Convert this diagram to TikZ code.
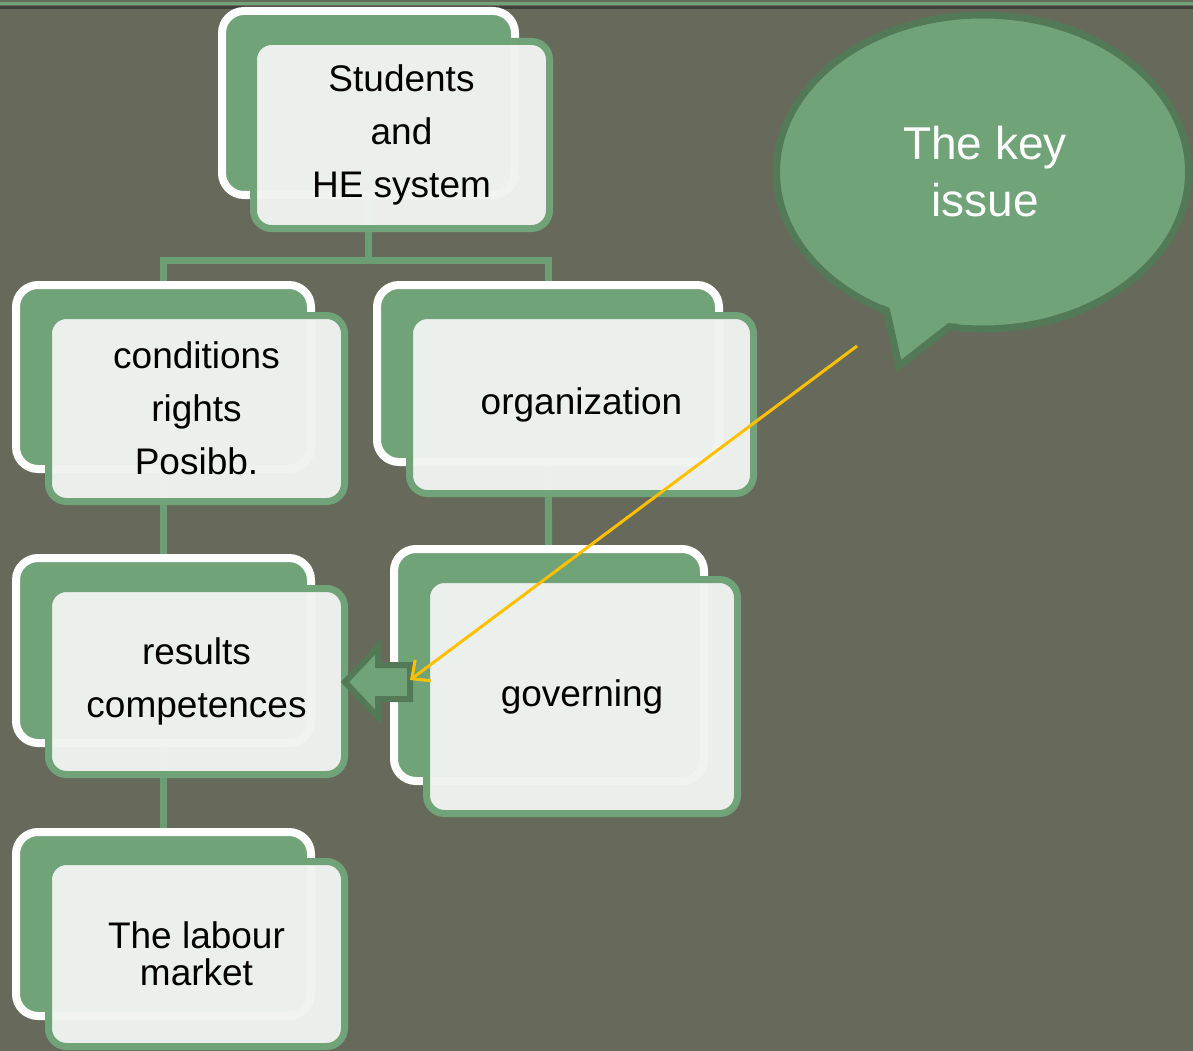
\documentclass[tikz,border=0pt]{standalone}
\usepackage{fontspec}
\setmainfont{Liberation Sans}
\usetikzlibrary{arrows.meta,shapes.geometric}
\definecolor{bg}{HTML}{676A5B}
\definecolor{boxgreen}{HTML}{70A378}
\definecolor{darkgreen}{HTML}{527A57}
\definecolor{linkgreen}{HTML}{6B9E72}
\definecolor{frontfill}{HTML}{F1F3F1}
\definecolor{yel}{HTML}{FFC000}
\definecolor{topdark}{HTML}{3F4138}
\pgfdeclarelayer{backlayer}
\pgfdeclarelayer{linklayer}
\pgfsetlayers{backlayer,linklayer,main}
\begin{document}
\begin{tikzpicture}[x=1pt,y=-1pt,
  backbox/.style={draw=white, line width=8pt, fill=boxgreen, rounded corners=22pt, inner sep=0pt, outer sep=0pt},
  frontbox/.style={draw=boxgreen, line width=7pt, fill=frontfill, fill opacity=0.97, draw opacity=1, text opacity=1,
     rounded corners=18pt, inner sep=0pt, outer sep=0pt, align=center, font=\fontsize{37}{53}\selectfont},
  link/.style={draw=linkgreen, line width=7pt},
  blockarrow/.style={draw=darkgreen, line width=6pt, fill=boxgreen, line join=miter},
  callout/.style={draw=darkgreen, line width=7pt, fill=boxgreen},
  pointer/.style={draw=yel, line width=3pt, -{Straight Barb[length=14pt,width=26pt,line width=3pt]}}
]
\begin{pgfonlayer}{backlayer}
\useasboundingbox (0,0) rectangle (1193,1051);
\fill[bg] (0,0) rectangle (1193,1051);
\draw[boxgreen, line width=3pt] (0,4) -- (1193,4);
\draw[topdark, line width=3pt] (0,8) -- (1193,8);
\end{pgfonlayer}

% back boxes
\node[backbox, minimum width=293pt, minimum height=184pt] (b1) at (368.5,103) {};
\node[backbox, minimum width=295pt, minimum height=184pt] (b2) at (163.5,377) {};
\node[backbox, minimum width=342pt, minimum height=177pt] (b3) at (548,373.5) {};
\node[backbox, minimum width=295pt, minimum height=185pt] (b4) at (163.5,650.5) {};
\node[backbox, minimum width=310pt, minimum height=232pt] (b5) at (549,665) {};
\node[backbox, minimum width=295pt, minimum height=184pt] (b6) at (163.5,924) {};

% front boxes
\node[frontbox, minimum width=296pt, minimum height=187pt] (f1) at (401.5,135) {Students\\and\\HE system};
\node[frontbox, minimum width=296pt, minimum height=186pt] (f2) at (196.5,408.5) {conditions\\rights\\Posibb.};
\node[frontbox, minimum width=344pt, minimum height=178pt] (f3) at (581.5,404.5) {organization};
\node[frontbox, minimum width=296pt, minimum height=186pt] (f4) at (196.5,681.5) {results\\competences};
\node[frontbox, minimum width=311pt, minimum height=234pt] (f5) at (582,696.5) {governing};
\node[frontbox, minimum width=296pt, minimum height=185pt, font=\fontsize{37}{37}\selectfont] (f6) at (196.5,954) {The labour\\market};

% connectors (behind boxes)
\coordinate (j1) at (368.5,260);
\begin{pgfonlayer}{linklayer}
\draw[link] (b1.center) -- (j1);
\draw[link] (j1) -| (b2.center);
\draw[link] (j1) -| (b3.center);
\draw[link] (b2.center) -- (b4.center);
\draw[link] (b4.center) -- (b6.center);
\draw[link] (b3.center) -- (b5.center);
\end{pgfonlayer}

% block arrow from governing to results
\draw[blockarrow] (410,665) -- (378,665) -- (378,647) -- (345,682) -- (378,717) -- (378,699) -- (410,699) -- cycle;
\coordinate (barrowend) at (410,680);

% callout
\node[ellipse, callout, minimum width=412pt, minimum height=314pt, inner sep=0pt] (key) at (982.5,172) {};
\draw[callout] (882,290) -- (899,366) -- (963,316);
\fill[boxgreen] (key.center) ellipse [x radius=202pt, y radius=153pt];
\node[text=white, align=center, font=\fontsize{46}{57}\selectfont] (keytext) at (985,172) {The key\\issue};

% pointer
\coordinate (ptail) at (857,346);
\draw[pointer] (ptail) -- (barrowend);
\end{tikzpicture}
\end{document}
